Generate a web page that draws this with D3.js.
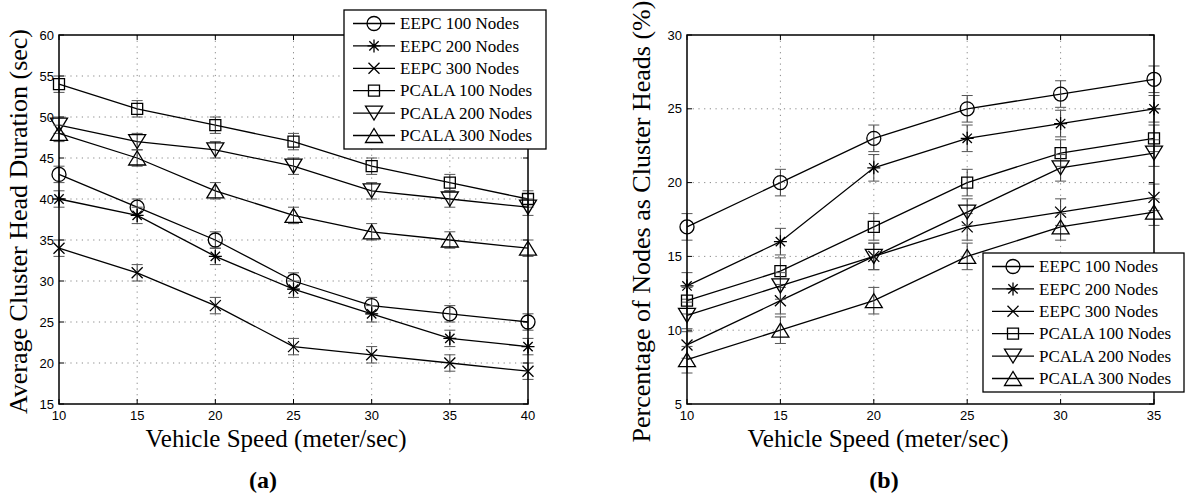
<!DOCTYPE html>
<html>
<head>
<meta charset="utf-8">
<script src="https://cdn.jsdelivr.net/npm/d3@7"></script>
<style>
  body { margin: 0; background: #fff; }
  svg { display: block; }
</style>
</head>
<body>
<svg id="fig" width="1187" height="495"></svg>
<script>
// ---- data -------------------------------------------------------------
const seriesNames = ["EEPC 100 Nodes", "EEPC 200 Nodes", "EEPC 300 Nodes",
                     "PCALA 100 Nodes", "PCALA 200 Nodes", "PCALA 300 Nodes"];
const markerKinds = ["circle", "star", "x", "square", "tridown", "triup"];

// (a) average cluster head duration vs vehicle speed
const speedA = [10, 15, 20, 25, 30, 35, 40];
const eepc100A  = [43, 39, 35, 30, 27, 26, 25];
const eepc200A  = [40, 38, 33, 29, 26, 23, 22];
const eepc300A  = [34, 31, 27, 22, 21, 20, 19];
const pcala100A = [54, 51, 49, 47, 44, 42, 40];
const pcala200A = [49, 47, 46, 44, 41, 40, 39];
const pcala300A = [48, 45, 41, 38, 36, 35, 34];
const errA = [1, 1, 1, 1, 1, 1, 1];
const xTicksA = [10, 15, 20, 25, 30, 35, 40];
const yTicksA = [15, 20, 25, 30, 35, 40, 45, 50, 55, 60];

// (b) percentage of nodes elected as cluster heads vs vehicle speed
const speedB = [10, 15, 20, 25, 30, 35];
const eepc100B  = [17, 20, 23, 25, 26, 27];
const eepc200B  = [13, 16, 21, 23, 24, 25];
const eepc300B  = [9, 12, 15, 17, 18, 19];
const pcala100B = [12, 14, 17, 20, 22, 23];
const pcala200B = [11, 13, 15, 18, 21, 22];
const pcala300B = [8, 10, 12, 15, 17, 18];
const errB = [0.9, 0.9, 0.9, 0.9, 0.9, 0.9];
const xTicksB = [10, 15, 20, 25, 30, 35];
const yTicksB = [5, 10, 15, 20, 25, 30];

// ---- drawing helpers ----------------------------------------------------
const svg = d3.select("#fig");
const SERIF = "'Liberation Serif', 'Times New Roman', serif";
const SANS = "'Liberation Sans', Arial, sans-serif";

// marker outlines, centred on the origin
function markerPath(kind) {
  const p = d3.path();
  switch (kind) {
    case "circle":
      p.arc(0, 0, 7, 0, 2 * Math.PI); break;
    case "square":
      p.rect(-5.5, -5.5, 11, 11); break;
    case "tridown":
      p.moveTo(-8.5, -7); p.lineTo(8.5, -7); p.lineTo(0, 7); p.closePath(); break;
    case "triup":
      p.moveTo(-8.5, 7); p.lineTo(8.5, 7); p.lineTo(0, -7); p.closePath(); break;
    case "x":
      p.moveTo(-5.5, -5.5); p.lineTo(5.5, 5.5);
      p.moveTo(-5.5, 5.5); p.lineTo(5.5, -5.5); break;
    case "star": {
      const r = 6.5, d = r * 0.72;
      p.moveTo(-r, 0); p.lineTo(r, 0);
      p.moveTo(0, -r); p.lineTo(0, r);
      p.moveTo(-d, -d); p.lineTo(d, d);
      p.moveTo(-d, d); p.lineTo(d, -d); break;
    }
  }
  return p.toString();
}

function drawPanel(cfg) {
  const g = svg.append("g");
  const x = d3.scaleLinear().domain(cfg.xDomain).range([cfg.left, cfg.right]);
  const y = d3.scaleLinear().domain(cfg.yDomain).range([cfg.bottom, cfg.top]);

  // dotted grid
  const grid = g.append("g").attr("stroke", "#7a7a7a").attr("stroke-width", 0.9)
    .attr("stroke-dasharray", "1.2,4.5");
  grid.selectAll(".gx").data(cfg.xTicks.slice(1, -1)).join("line")
    .attr("x1", d => x(d)).attr("x2", d => x(d))
    .attr("y1", cfg.top).attr("y2", cfg.bottom);
  grid.selectAll(".gy").data(cfg.yTicks.slice(1, -1)).join("line")
    .attr("x1", cfg.left).attr("x2", cfg.right)
    .attr("y1", d => y(d)).attr("y2", d => y(d));

  // inward tick marks on all four sides
  const tk = g.append("g").attr("stroke", "#000").attr("stroke-width", 1);
  cfg.xTicks.forEach(v => {
    tk.append("line").attr("x1", x(v)).attr("x2", x(v)).attr("y1", cfg.bottom).attr("y2", cfg.bottom - 5);
    tk.append("line").attr("x1", x(v)).attr("x2", x(v)).attr("y1", cfg.top).attr("y2", cfg.top + 5);
  });
  cfg.yTicks.forEach(v => {
    tk.append("line").attr("x1", cfg.left).attr("x2", cfg.left + 5).attr("y1", y(v)).attr("y2", y(v));
    tk.append("line").attr("x1", cfg.right).attr("x2", cfg.right - 5).attr("y1", y(v)).attr("y2", y(v));
  });

  // series: line, error bars, markers
  const line = d3.line().x((d, i) => x(cfg.xs[i])).y(d => y(d));
  cfg.series.forEach((vals, s) => {
    const sg = g.append("g");
    sg.append("path").attr("d", line(vals)).attr("fill", "none")
      .attr("stroke", "#000").attr("stroke-width", 1.3);
    const eb = sg.append("g").attr("stroke", "#333").attr("stroke-width", 1);
    vals.forEach((v, i) => {
      const cx = x(cfg.xs[i]), e = cfg.err[i];
      eb.append("line").attr("x1", cx).attr("x2", cx).attr("y1", y(v - e)).attr("y2", y(v + e));
      eb.append("line").attr("x1", cx - 5.5).attr("x2", cx + 5.5).attr("y1", y(v - e)).attr("y2", y(v - e)).attr("stroke", "#555");
      eb.append("line").attr("x1", cx - 5.5).attr("x2", cx + 5.5).attr("y1", y(v + e)).attr("y2", y(v + e)).attr("stroke", "#555");
    });
    sg.selectAll(".m").data(vals).join("path")
      .attr("transform", (d, i) => `translate(${x(cfg.xs[i])},${y(d)})`)
      .attr("d", markerPath(markerKinds[s]))
      .attr("fill", "none").attr("stroke", "#000").attr("stroke-width", 1.3);
  });

  // axes box
  g.append("rect").attr("x", cfg.left).attr("y", cfg.top)
    .attr("width", cfg.right - cfg.left).attr("height", cfg.bottom - cfg.top)
    .attr("fill", "none").attr("stroke", "#000").attr("stroke-width", 1.5);

  // tick labels
  g.append("g").selectAll("text").data(cfg.xTicks).join("text")
    .attr("x", d => x(d)).attr("y", cfg.bottom + 16)
    .attr("text-anchor", "middle").attr("font-family", SANS).attr("font-size", 13)
    .text(d => d);
  g.append("g").selectAll("text").data(cfg.yTicks).join("text")
    .attr("x", cfg.left - 5).attr("y", d => y(d)).attr("dy", "0.35em")
    .attr("text-anchor", "end").attr("font-family", SANS).attr("font-size", 13)
    .text(d => d);

  // axis titles and caption
  const midY = (cfg.top + cfg.bottom) / 2;
  g.append("text").attr("x", cfg.xTitleX).attr("y", cfg.bottom + 43)
    .attr("text-anchor", "middle").attr("font-family", SERIF).attr("font-size", 25)
    .text("Vehicle Speed (meter/sec)");
  g.append("text").attr("transform", `translate(${cfg.yTitleX},${midY + 2}) rotate(-90)`)
    .attr("text-anchor", "middle").attr("font-family", SERIF).attr("font-size", 26)
    .text(cfg.yTitle);
  g.append("text").attr("x", cfg.captionX).attr("y", cfg.bottom + 84)
    .attr("text-anchor", "middle").attr("font-family", SERIF).attr("font-size", 24)
    .attr("font-weight", "bold").text(cfg.caption);

  // legend
  const lg = g.append("g");
  lg.append("rect").attr("x", cfg.legend.x).attr("y", cfg.legend.y)
    .attr("width", cfg.legend.w).attr("height", cfg.legend.h)
    .attr("fill", "#fff").attr("stroke", "#000").attr("stroke-width", 1.3);
  seriesNames.forEach((name, s) => {
    const ry = cfg.legend.y + 13.5 + s * 22.4;
    const lx = cfg.legend.x + 9;
    lg.append("line").attr("x1", lx).attr("x2", lx + 42).attr("y1", ry).attr("y2", ry)
      .attr("stroke", "#000").attr("stroke-width", 1.3);
    lg.append("path").attr("transform", `translate(${lx + 21},${ry})`)
      .attr("d", markerPath(markerKinds[s]))
      .attr("fill", "none").attr("stroke", "#000").attr("stroke-width", 1.3);
    lg.append("text").attr("x", lx + 47).attr("y", ry).attr("dy", "0.33em")
      .attr("font-family", SERIF).attr("font-size", 17).text(name);
  });
}

drawPanel({
  xs: speedA, series: [eepc100A, eepc200A, eepc300A, pcala100A, pcala200A, pcala300A],
  err: errA, xDomain: [10, 40], yDomain: [15, 60], xTicks: xTicksA, yTicks: yTicksA,
  left: 59, right: 528, top: 35, bottom: 404,
  yTitle: "Average Cluster Head Duration (sec)", yTitleX: 27, caption: "(a)",
  xTitleX: 276, captionX: 263,
  legend: { x: 344, y: 10, w: 202, h: 139 }
});

drawPanel({
  xs: speedB, series: [eepc100B, eepc200B, eepc300B, pcala100B, pcala200B, pcala300B],
  err: errB, xDomain: [10, 35], yDomain: [5, 30], xTicks: xTicksB, yTicks: yTicksB,
  left: 687, right: 1154, top: 35, bottom: 404,
  yTitle: "Percentage of Nodes as Cluster Heads (%)", yTitleX: 650, caption: "(b)",
  xTitleX: 878, captionX: 884,
  legend: { x: 983, y: 253, w: 201, h: 139 }
});
</script>
</body>
</html>
